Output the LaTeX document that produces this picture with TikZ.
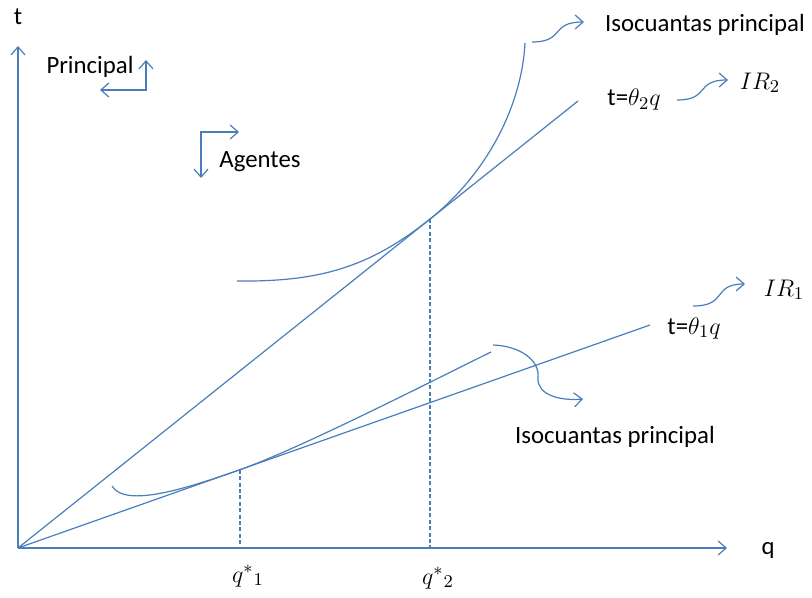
\documentclass[tikz,border=0pt]{standalone}
\usepackage{fontspec}
\setmainfont{Carlito}
\usepackage{tikz}
\usetikzlibrary{arrows,arrows.meta,shapes}
\usepackage{amsmath,amssymb}
\definecolor{linea}{RGB}{74,126,187}

\begin{document}
\begin{tikzpicture}[x=0.5pt,y=-0.5pt,font=\fontsize{12.4}{15}\selectfont,
  lin/.style={linea,line width=0.6pt},
  flecha/.style={lin,-{Straight Barb[length=4pt,width=7pt]}},
  dosflechas/.style={lin,{Straight Barb[length=4pt,width=7pt]}-{Straight Barb[length=4pt,width=7pt]}},
  guia/.style={lin,dash pattern=on 2pt off 1.2pt}]
\useasboundingbox (0,0) rectangle (812,598);
% ejes
\coordinate (O) at (18,548);
\coordinate (ytop) at (18,46);
\coordinate (xend) at (727,548);
\draw[flecha] (O)--(ytop);
\draw[flecha] (O)--(xend);
\node (t) at (18,17) {t};
\node (q) at (768,550) {q};
% principal / agentes
\node (prin) at (90,67) {Principal};
\coordinate (pu) at (146,60);
\coordinate (pc) at (146,90);
\coordinate (pl) at (100,90);
\draw[dosflechas] (pu)--(pc)--(pl);
\node (agen) at (260,162) {Agentes};
\coordinate (ar) at (239,132);
\coordinate (ac) at (201,132);
\coordinate (ad) at (201,178);
\draw[dosflechas] (ar)--(ac)--(ad);
% rectas t = theta q
\coordinate (r2) at (578,101);
\coordinate (r1) at (650,325);
\draw[lin] (O)--(r2);
\draw[lin] (O)--(r1);
\node (th2) at (634,100) {t=$\theta_2q$};
\node (th1) at (694,328) {t=$\theta_1q$};
\node (ir2) at (760,83) {$IR_2$};
\node (ir1) at (784,290) {$IR_1$};
% isocuantas
\coordinate (tg2) at (430,219);
\coordinate (tg1) at (240,469.7);
\draw[lin] (237,281) .. controls (320,282) and (370,267) .. (tg2)
  .. controls (489,172) and (522,103) .. (525,43);
\draw[lin] (112,486) .. controls (125,508) and (185,489) .. (tg1)
  .. controls (300,448.5) and (432,381) .. (491,352);
\draw[guia] (tg2)--(tg2 |- O);
\draw[guia] (tg1)--(tg1 |- O);
\node (qs1) at (248,576) {$q^{*}{}_{1}$};
\node (qs2) at (438,578) {$q^{*}{}_{2}$};
% etiquetas con flechas
\node (iso2) at (705,25) {Isocuantas principal};
\node (iso1) at (615,437) {Isocuantas principal};
\draw[flecha] (532,42) .. controls (565,42) and (550,22) .. (584,22);
\draw[flecha] (677,100) .. controls (710,100) and (695,80) .. (728,80);
\draw[flecha] (693,306) .. controls (728,306) and (712,284) .. (745,284);
\draw[flecha] (493,345) .. controls (520,346) and (540,360) .. (538,378)
  .. controls (537,395) and (560,401) .. (583,399);
\end{tikzpicture}
\end{document}
